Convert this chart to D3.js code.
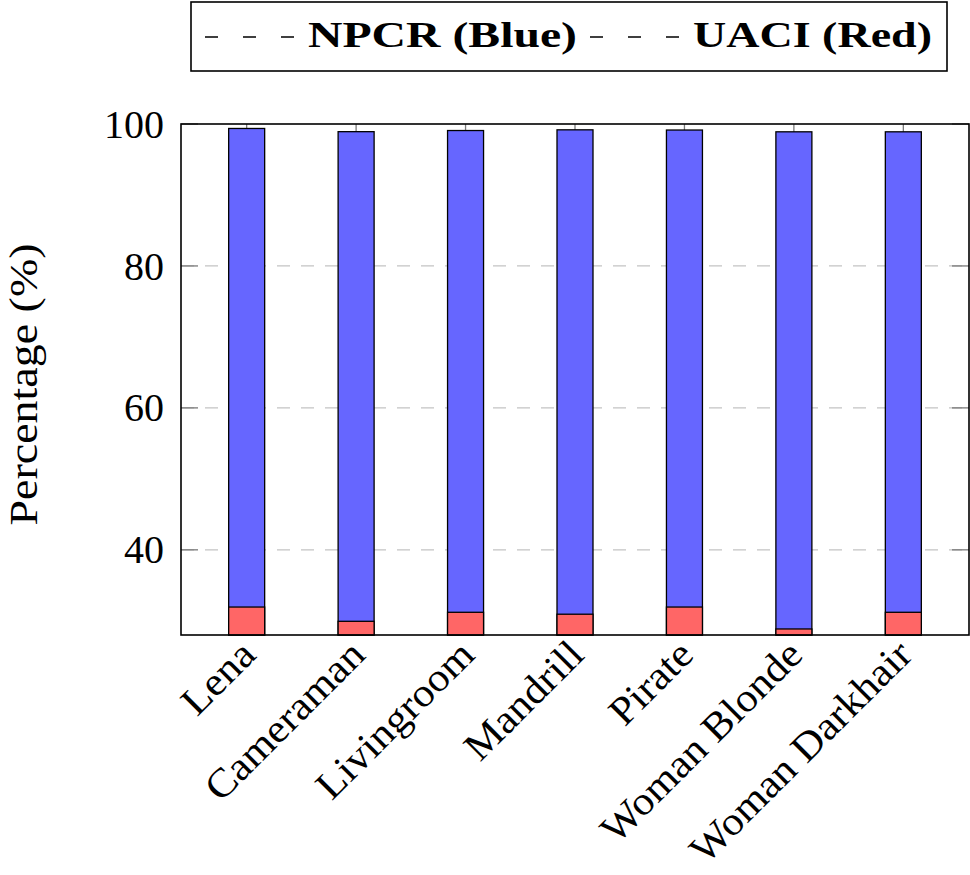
<!DOCTYPE html>
<html>
<head>
<meta charset="utf-8">
<script src="https://cdn.jsdelivr.net/npm/d3@7"></script>
<style>
  html, body { margin: 0; padding: 0; background: #fff; }
  svg { display: block; }
</style>
</head>
<body>
<svg id="chart" width="970" height="875"></svg>
<script>
// ---- data ----
const categories = ["Lena", "Cameraman", "Livingroom", "Mandrill", "Pirate", "Woman Blonde", "Woman Darkhair"];
const npcr = [99.37, 98.92, 99.08, 99.18, 99.15, 98.90, 98.90];
const uaci = [31.94, 29.93, 31.20, 30.93, 31.94, 28.85, 31.20];
const yTicks = [40, 60, 80, 100];
const seriesNames = ["NPCR (Blue)", "UACI (Red)"];
const yLabel = "Percentage (%)";

// ---- layout ----
const svg = d3.select("#chart");
const L = 181, R = 969, T = 124, B = 635;
const serif = "'Liberation Serif', 'Times New Roman', serif";

const x = d3.scalePoint().domain(categories).range([L, R]).padding(0.6);
const y = d3.scaleLinear().domain([28, 100]).range([B, T]);
const barW = 36;

// grid lines
svg.append("g").selectAll("line").data(yTicks.filter(t => t < 100)).join("line")
  .attr("x1", L).attr("x2", R)
  .attr("y1", d => y(d)).attr("y2", d => y(d))
  .attr("stroke", "#c4c4c4").attr("stroke-width", 1.3)
  .attr("stroke-dasharray", "13,11");

// y tick marks (left & right, inward)
const tickG = svg.append("g").attr("stroke", "#7a7a7a").attr("stroke-width", 1.3);
tickG.selectAll("line.l").data(yTicks).join("line").attr("class", "l")
  .attr("x1", L).attr("x2", L + 17).attr("y1", d => y(d)).attr("y2", d => y(d));
tickG.selectAll("line.r").data(yTicks).join("line").attr("class", "r")
  .attr("x1", R - 17).attr("x2", R).attr("y1", d => y(d)).attr("y2", d => y(d));
// x tick marks (top & bottom, inward)
tickG.selectAll("line.t").data(categories).join("line").attr("class", "t")
  .attr("x1", d => x(d)).attr("x2", d => x(d)).attr("y1", T).attr("y2", T + 17);
tickG.selectAll("line.b").data(categories).join("line").attr("class", "b")
  .attr("x1", d => x(d)).attr("x2", d => x(d)).attr("y1", B - 17).attr("y2", B);

// bars: NPCR (blue) then UACI (red) overlaid
svg.append("g").selectAll("rect").data(categories).join("rect")
  .attr("x", d => x(d) - barW / 2)
  .attr("width", barW)
  .attr("y", (d, i) => y(npcr[i]))
  .attr("height", (d, i) => B - y(npcr[i]))
  .attr("fill", "#6666ff").attr("stroke", "#000").attr("stroke-width", 1.3);
svg.append("g").selectAll("rect").data(categories).join("rect")
  .attr("x", d => x(d) - barW / 2)
  .attr("width", barW)
  .attr("y", (d, i) => y(uaci[i]))
  .attr("height", (d, i) => B - y(uaci[i]))
  .attr("fill", "#ff6666").attr("stroke", "#000").attr("stroke-width", 1.3);

// axis frame
svg.append("rect").attr("x", L).attr("y", T).attr("width", R - L).attr("height", B - T)
  .attr("fill", "none").attr("stroke", "#000").attr("stroke-width", 1.6);

// y tick labels
svg.append("g").selectAll("text").data(yTicks).join("text")
  .attr("x", 164).attr("y", d => y(d)).attr("dy", "0.34em")
  .attr("text-anchor", "end")
  .attr("font-family", serif).attr("font-size", 40)
  .text(d => d);

// y axis label
svg.append("text")
  .attr("transform", `translate(37,${(T + B) / 2 + 5}) rotate(-90)`)
  .attr("text-anchor", "middle")
  .attr("font-family", serif).attr("font-size", 40)
  .attr("textLength", 282).attr("lengthAdjust", "spacingAndGlyphs")
  .text(yLabel);

// x tick labels rotated 45°
const xl = svg.append("g").selectAll("text").data(categories).join("text")
  .attr("transform", d => `translate(${x(d) + 1},${B + 12}) rotate(-45)`)
  .attr("text-anchor", "end").attr("dy", "0.35em")
  .attr("font-family", serif).attr("font-size", 40)
  .text(d => d);
xl.each(function () {
  const len = this.getComputedTextLength();
  d3.select(this).attr("textLength", len * 1.07).attr("lengthAdjust", "spacingAndGlyphs");
});

// legend
const lg = svg.append("g");
lg.append("rect").attr("x", 191).attr("y", 2).attr("width", 756).attr("height", 69)
  .attr("fill", "#fff").attr("stroke", "#000").attr("stroke-width", 1.6);
const legendItems = [
  { name: seriesNames[0], dashX: 205, textX: 308, textLen: 269 },
  { name: seriesNames[1], dashX: 590, textX: 693, textLen: 239 }
];
legendItems.forEach(it => {
  lg.append("line").attr("x1", it.dashX).attr("x2", it.dashX + 90)
    .attr("y1", 37).attr("y2", 37)
    .attr("stroke", "#000").attr("stroke-width", 1.3)
    .attr("stroke-dasharray", "13,25");
  lg.append("text").attr("x", it.textX).attr("y", 47)
    .attr("font-family", serif).attr("font-weight", "bold").attr("font-size", 35)
    .attr("textLength", it.textLen).attr("lengthAdjust", "spacingAndGlyphs")
    .text(it.name);
});
</script>
</body>
</html>
